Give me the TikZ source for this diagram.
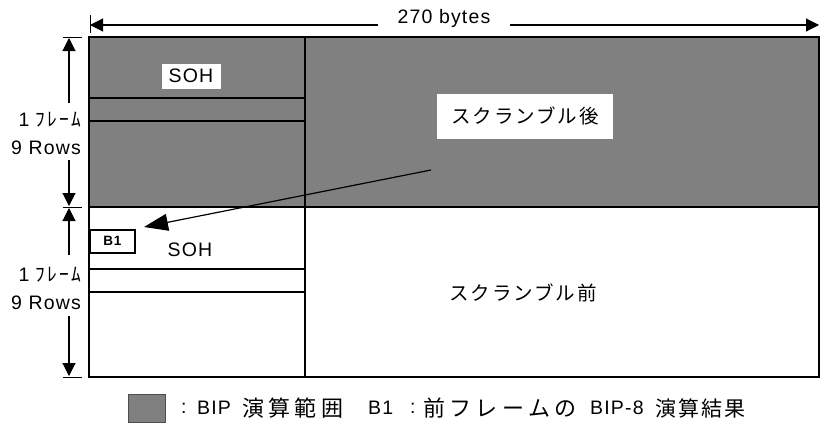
\documentclass[tikz,border=0pt]{standalone}
\usepackage{fontspec}
\setmainfont{Liberation Sans}[LetterSpace=6]
\newfontfamily\jp{Noto Sans CJK JP}[LetterSpace=10]
\newfontfamily\jpw{Noto Sans CJK JP}[LetterSpace=20]
\usetikzlibrary{arrows.meta}
\definecolor{bipgray}{HTML}{808080}
\tikzset{
  thick line/.style={line width=2pt},
  dimline/.style={line width=1.1pt, -{Triangle[length=13pt,width=13pt]}},
  tick/.style={line width=1pt},
  lbl/.style={font=\fontsize{19.5}{23}\selectfont, inner sep=1pt},
  whitelbl/.style={lbl, fill=white, inner sep=2pt},
  legtext/.style={lbl, inner sep=0pt, anchor=west},
  legjp/.style={legtext, font=\fontsize{22}{26}\selectfont\jpw},
}
\begin{document}
\begin{tikzpicture}[x=1pt,y=-1pt]
\useasboundingbox (0,0) rectangle (820,429);
% fills
\fill[bipgray] (89,37) rectangle (819,207);
% frame lines
\draw[thick line] (89,37) rectangle (819,377);
\draw[thick line] (89,207) -- (819,207);
\draw[thick line] (305,37) -- (305,377);
\draw[thick line] (89,98) -- (305,98);
\draw[thick line] (89,121) -- (305,121);
\draw[thick line] (89,269) -- (305,269);
\draw[thick line] (89,292) -- (305,292);
% top dimension
\node[lbl] (bytes) at (444,18) {270 bytes};
\coordinate (tl) at (90,25);
\coordinate (tr) at (819,25);
\draw[tick] (90,15) -- (90,33);
\draw[dimline] (378,25) -- (tl);
\draw[dimline] (510,25) -- (tr);
% left dimensions
\draw[tick] (63,37) -- (82,37);
\draw[tick] (63,207) -- (82,207);
\draw[tick] (63,377) -- (82,377);
\node[lbl, anchor=east] (f1) at (82,120) {1 {\jp ﾌﾚｰﾑ}};
\node[lbl, anchor=east] (r1) at (82,148) {9 Rows};
\node[lbl, anchor=east] (f2) at (82,275) {1 {\jp ﾌﾚｰﾑ}};
\node[lbl, anchor=east] (r2) at (82,303) {9 Rows};
\coordinate (a1t) at (69,38);
\coordinate (a1b) at (69,206);
\coordinate (a2t) at (69,208);
\coordinate (a2b) at (69,376);
\draw[dimline] (69,103) -- (a1t);
\draw[dimline] (69,160) -- (a1b);
\draw[dimline] (69,255) -- (a2t);
\draw[dimline] (69,316) -- (a2b);
% labels
\node[whitelbl, minimum width=59pt, minimum height=25pt] (soh1) at (191,76) {SOH};
\node[whitelbl, minimum width=176pt, minimum height=45pt] (after) at (525,116) {\jp スクランブル後};
\node[lbl] (soh2) at (190,250) {SOH};
\node[lbl] (before) at (523,293) {\jp スクランブル前};
\node[draw, line width=1.6pt, minimum width=45pt, minimum height=23pt, anchor=north west,
      font=\fontsize{13.5}{15}\selectfont\bfseries, inner sep=0pt] (b1) at (89,229) {B1};
% pointer arrow
\coordinate (ps) at (431,170);
\coordinate (pe) at (144,227);
\draw[line width=1.2pt, -{Triangle[length=24pt,width=17pt]}] (ps) -- (pe);
% legend
\node[draw=bipgray!60!black, fill=bipgray, minimum width=37pt, minimum height=28pt, inner sep=0pt, anchor=north west] (leg) at (128,394) {};
\node[legtext] (lg1) at (181,408) {:};
\node[legtext] (lg2) at (197,408) {BIP};
\node[legjp] (lg3) at (242,408) {演算範囲};
\node[legtext] (lg4) at (368,408) {B1};
\node[legtext] (lg5) at (410,408) {:};
\node[legjp] (lg6) at (423,408) {前フレームの};
\node[legtext] (lg7) at (590,408) {BIP-8};
\node[legtext, font=\fontsize{21}{26}\selectfont\jp] (lg8) at (655,408) {演算結果};
\end{tikzpicture}
\end{document}
